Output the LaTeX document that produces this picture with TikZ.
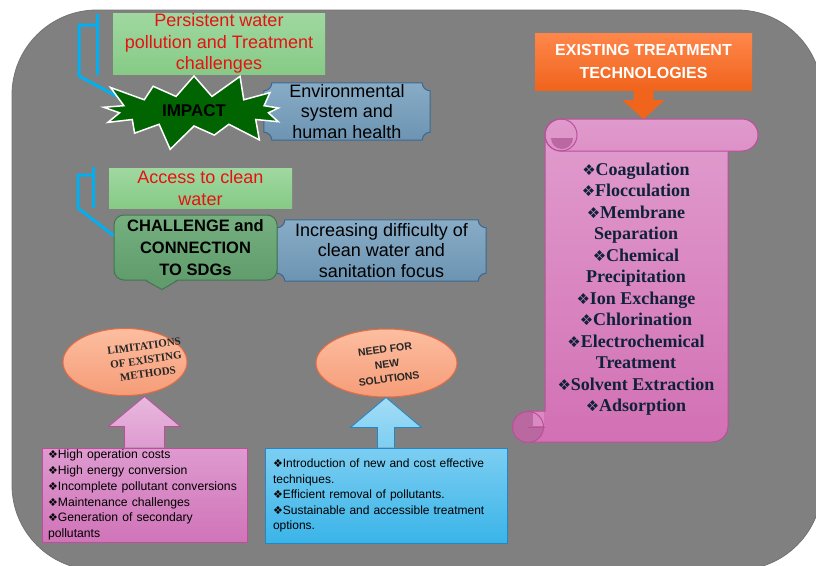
\documentclass[tikz,border=0pt]{standalone}
\usepackage{fontspec}
\setmainfont{Liberation Sans}
\newfontfamily\scrollfont{Liberation Serif}
\newfontfamily\dejavu{DejaVu Sans}
\usetikzlibrary{positioning, calc, shapes.geometric, shapes.symbols, backgrounds}

% colours
\definecolor{panelgrey}{RGB}{128,128,128}
\definecolor{greentop}{RGB}{160,216,160}
\definecolor{greenbot}{RGB}{134,202,134}
\definecolor{redtext}{RGB}{230,18,18}
\definecolor{cyanline}{RGB}{0,176,240}
\definecolor{stargreen}{RGB}{0,100,0}
\definecolor{plaquetop}{RGB}{136,172,198}
\definecolor{plaquebot}{RGB}{108,148,178}
\definecolor{plaqueedge}{RGB}{58,104,146}
\definecolor{sdgtop}{RGB}{118,176,128}
\definecolor{sdgbot}{RGB}{96,156,108}
\definecolor{sdgedge}{RGB}{66,118,80}
\definecolor{techtop}{RGB}{255,135,75}
\definecolor{techbot}{RGB}{240,100,28}
\definecolor{scrolltop}{RGB}{224,154,204}
\definecolor{scrollbot}{RGB}{210,112,180}
\definecolor{scrolldark}{RGB}{186,104,160}
\definecolor{scrolledge}{RGB}{188,78,156}
\definecolor{listnavy}{RGB}{16,34,58}
\definecolor{salmontop}{RGB}{252,190,160}
\definecolor{salmonbot}{RGB}{246,156,120}
\definecolor{salmonedge}{RGB}{232,108,66}
\definecolor{pinktop}{RGB}{222,154,208}
\definecolor{pinkbot}{RGB}{208,116,184}
\definecolor{skytop}{RGB}{124,206,242}
\definecolor{skybot}{RGB}{58,180,232}
\definecolor{skyedge}{RGB}{36,134,196}

\newcommand{\dbul}{{\dejavu\fontsize{11}{11}\selectfont ❖}}
\newcommand{\sbul}{{\dejavu\fontsize{15}{15}\selectfont ❖}}

\tikzset{
greenbox/.style={inner sep=0pt, top color=greentop, bottom color=greenbot, text=redtext, align=center, font=\fontsize{18}{21.5}\selectfont},
bracket/.style={cyanline, line width=3pt},
impactstar/.style={starburst, starburst points=13, starburst point height=28pt, fill=stargreen, draw=white, line width=1.5pt, inner sep=0pt, font=\bfseries\fontsize{17}{18}\selectfont},
plaquetext/.style={inner sep=0pt, align=center, font=\fontsize{18}{20.5}\selectfont},
plaquefill/.style={top color=plaquetop, bottom color=plaquebot, draw=plaqueedge, line width=1pt},
sdgbox/.style={inner sep=0pt, rounded corners=10pt, top color=sdgtop, bottom color=sdgbot, draw=sdgedge, line width=1pt, align=center, font=\bfseries\fontsize{16.5}{22}\selectfont},
techbox/.style={inner sep=0pt, top color=techtop, bottom color=techbot, text=white, align=center, font=\bfseries\fontsize{16}{23}\selectfont},
scrollfill/.style={top color=scrolltop, bottom color=scrollbot, draw=scrolledge, line width=1pt},
listtext/.style={inner sep=0pt, text=listnavy, align=center, font=\scrollfont\bfseries\fontsize{18}{21.5}\selectfont},
oval/.style={ellipse, inner sep=0pt, top color=salmontop, bottom color=salmonbot, draw=salmonedge, line width=1pt},
ovaltext/.style={inner sep=0pt, align=center, rotate=8, text=black!85},
pinkbox/.style={inner xsep=6pt, inner ysep=0pt, top color=pinktop, bottom color=pinkbot, draw=scrolledge, line width=1pt, align=left, font=\fontsize{12.2}{15.7}\selectfont},
bluebox/.style={inner xsep=8pt, inner ysep=0pt, top color=skytop, bottom color=skybot, draw=skyedge, line width=1pt, align=left, font=\fontsize{12}{15.5}\selectfont},
}

\newcommand{\drawplaque}[1]{%
  \begin{scope}[on background layer]
    \path[plaquefill] ($(#1.north west)+(8,0)$) -- ($(#1.north east)+(-8,0)$)
      .. controls ($(#1.north east)+(-8,4.4)$) and ($(#1.north east)+(-4.4,8)$) .. ($(#1.north east)+(0,8)$)
      -- ($(#1.south east)+(0,-8)$)
      .. controls ($(#1.south east)+(-4.4,-8)$) and ($(#1.south east)+(-8,-4.4)$) .. ($(#1.south east)+(-8,0)$)
      -- ($(#1.south west)+(8,0)$)
      .. controls ($(#1.south west)+(8,-4.4)$) and ($(#1.south west)+(4.4,-8)$) .. ($(#1.south west)+(0,-8)$)
      -- ($(#1.north west)+(0,8)$)
      .. controls ($(#1.north west)+(4.4,8)$) and ($(#1.north west)+(8,4.4)$) .. ($(#1.north west)+(8,0)$) -- cycle;
  \end{scope}}

\begin{document}
\begin{tikzpicture}[x=1pt, y=-1pt]
    \useasboundingbox (0,0) rectangle (816,565);

    % grey panel
    \begin{scope}[on background layer]
        \path[fill=panelgrey, draw=black!55, line width=0.8pt, rounded corners=85pt] (12,10) rectangle (822,570);
    \end{scope}

    %impact row
    \coordinate (br1top) at (97,14);
    \coordinate (br1bot) at (97,75);
    \coordinate (br1hook) at (97,25);
    \coordinate (br1end) at (124,100);
    \draw[bracket] (br1top) -- (br1bot);
    \draw[bracket] (br1hook) -- ++(-18,0) -- ++(0,51) -- (br1end);
    \node[impactstar, minimum width=206pt, minimum height=86pt] (impact) at (194,111) {IMPACT};
    \node[greenbox, minimum width=212pt, minimum height=61pt] (persist) at (219,43.5) {Persistent water\\pollution and Treatment\\challenges};
    \node[plaquetext, minimum width=166pt, minimum height=57pt] (env) at (347,111.5) {Environmental\\system and\\human health};
    \drawplaque{env}

    %challenge row
    \node[greenbox, minimum width=183pt, minimum height=40pt] (access) at (200.5,188) {Access to clean\\water};
    \coordinate (br2top) at (93,167);
    \coordinate (br2bot) at (93,208);
    \coordinate (br2hook) at (93,175);
    \draw[bracket] (br2top) -- (br2bot);
    \node[sdgbox, minimum width=163pt, minimum height=65pt] (sdg) at (195.5,247.5) {CHALLENGE and\\CONNECTION\\TO SDGs};
    \draw[bracket] (br2hook) -- ++(-15,0) -- ++(0,33) -- ($(sdg.west)+(0,-12)$);
    \fill[sdgbot] ($(sdg.south)+(-50,-1.5)$) -- ($(sdg.south)+(-33.5,9)$) -- ($(sdg.south)+(-18,-1.5)$) -- cycle;
    \draw[sdgedge, line width=1pt] ($(sdg.south)+(-50,0)$) -- ($(sdg.south)+(-33.5,9)$) -- ($(sdg.south)+(-18,0)$);
    \node[plaquetext, minimum width=209pt, minimum height=61pt] (incr) at (381.5,250.5) {Increasing difficulty of\\clean water and\\sanitation focus};
    \drawplaque{incr}

    %treatment technologies
    \node[techbox, minimum width=217pt, minimum height=57pt] (tech) at (643.5,61.5) {EXISTING TREATMENT\\TECHNOLOGIES};
    \fill[techbot] ($(tech.south)+(-10,-1)$) -- ($(tech.south)+(-10,10)$) -- ($(tech.south)+(-21,10)$) -- ($(tech.south)+(0,29)$)
        -- ($(tech.south)+(21,10)$) -- ($(tech.south)+(10,10)$) -- ($(tech.south)+(10,-1)$) -- cycle;

    % scroll
    \path[scrollfill] (545,140) -- (728,140) -- (728,426) .. controls (728,435) and (721,442) .. (712,442) -- (528,442) -- (528,411) -- (545,411) -- cycle;
    \fill[scrolldark] (528,427) circle[radius=15.5pt];
    \fill[scrolltop!60!scrollbot] (533,412) rectangle (544,426);
    \draw[scrolledge, line width=1pt] (528,427) circle[radius=15.5pt];
    \draw[scrolledge, line width=1pt] (528,427) -- (545,427);
    \path[scrollfill, top color=scrolltop, bottom color=scrolltop!80!scrollbot, rounded corners=16pt] (545,119) rectangle (758,151);
    \begin{scope}
        \clip (545,138) rectangle (580,152);
        \fill[scrolldark] (562,138) circle[radius=11pt];
    \end{scope}
    \draw[scrolledge, line width=1pt] (561,135) circle[radius=16pt];
    \node[listtext] (techlist) at (636,289) {\sbul Coagulation\\\sbul Flocculation\\\sbul Membrane\\Separation\\\sbul Chemical\\Precipitation\\\sbul Ion Exchange\\\sbul Chlorination\\\sbul Electrochemical\\Treatment\\\sbul Solvent Extraction\\\sbul Adsorption};

    %limitations
    \node[oval, minimum width=124pt, minimum height=67pt] (limoval) at (125,362) {};
    \node[ovaltext, font=\scrollfont\bfseries\fontsize{11}{14}\selectfont] (limtext) at (146,360) {LIMITATIONS\\OF EXISTING\\METHODS};
    \node[pinkbox, text width=193pt, minimum height=94pt] (limbox) at (144.5,495) {\dbul High operation costs\\\dbul High energy conversion\\\dbul Incomplete pollutant conversions\\\dbul Maintenance challenges\\\dbul Generation of secondary\\pollutants};
    \path[top color=pinktop!70!white, bottom color=pinktop, draw=scrolledge, line width=0.8pt] ($(limbox.north)+(-20,0)$) -- ++(0,-21) -- ++(-16,0) -- ($(limbox.north)+(0,-51)$)
        -- ($(limbox.north)+(36,-21)$) -- ++(-16,0) -- ++(0,21);

    %new solutions
    \node[oval, minimum width=141pt, minimum height=68pt] (needoval) at (386.5,363) {};
    \node[ovaltext, font=\bfseries\fontsize{10.5}{15}\selectfont] (needtext) at (387,364) {NEED FOR\\NEW\\SOLUTIONS};
    \node[bluebox, text width=226pt, minimum height=95pt] (needbox) at (386,495.5) {\dbul Introduction of new and cost effective\\techniques.\\\dbul Efficient removal of pollutants.\\\dbul Sustainable and accessible treatment\\options.};
    \path[top color=skytop!70!white, bottom color=skytop, draw=skyedge, line width=0.8pt] ($(needbox.north)+(-8.5,0)$) -- ++(0,-20) -- ++(-27,0) -- ($(needbox.north)+(0,-50)$)
        -- ($(needbox.north)+(35.5,-20)$) -- ++(-27,0) -- ++(0,20);

\end{tikzpicture}
\end{document}
